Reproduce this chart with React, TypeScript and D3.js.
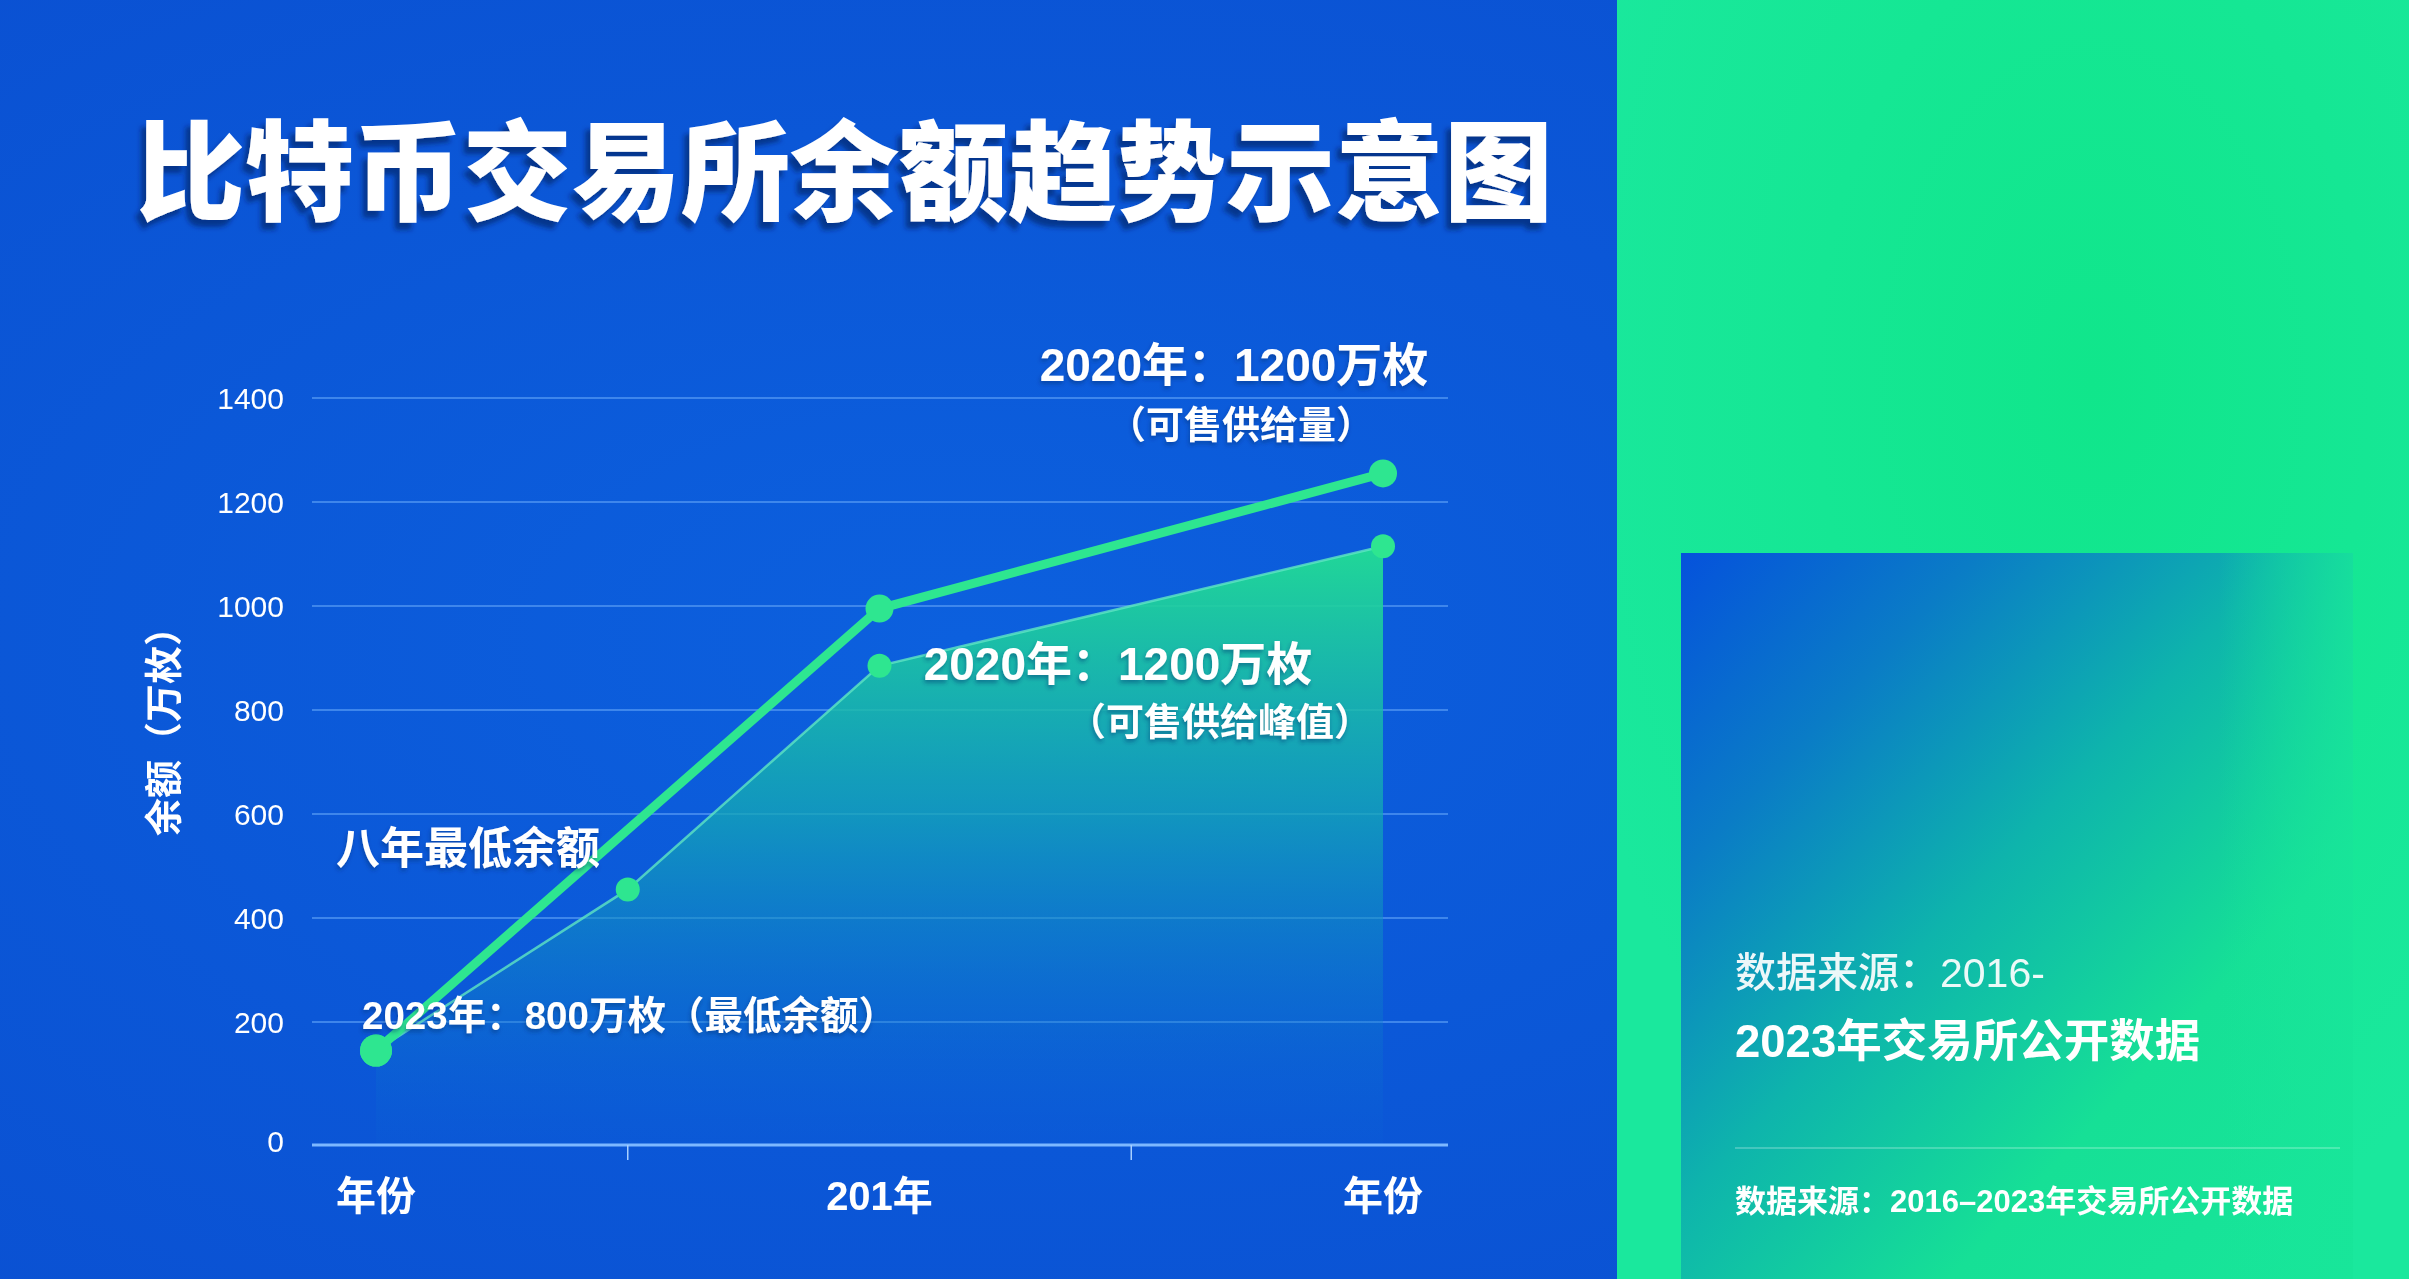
import React, { useEffect, useRef } from 'react';
import * as d3 from 'd3';

// axis values
const yTicks = [0, 200, 400, 600, 800, 1000, 1200, 1400];
const xTickSlots = [1, 3];
const xLabelSlots = [0, 2, 4];
const xLabels = ['年份', '201年', '年份'];

// series (万枚)
const supplySlots = [0, 2, 4];
const supplyValues = [145, 995, 1255];
const balanceSlots = [0, 1, 2, 4];
const balanceValues = [145, 455, 885, 1115];

const W = 2409;
const H = 1279;
const LATIN = '"Liberation Sans", "Noto Sans CJK SC", sans-serif';
const CJK = '"Noto Sans CJK SC", sans-serif';
const GREEN = '#2ee690';

const App: React.FC = () => {
  const svgRef = useRef<SVGSVGElement>(null);

  useEffect(() => {
    if (!svgRef.current) return;
    const svg = d3.select(svgRef.current);
    svg.selectAll('*').remove();

    const defs = svg.append('defs');

    const bg = defs.append('radialGradient').attr('id', 'bgGrad')
      .attr('cx', 0.4).attr('cy', 0.5).attr('r', 0.75);
    bg.append('stop').attr('offset', 0).attr('stop-color', '#0c60de');
    bg.append('stop').attr('offset', 1).attr('stop-color', '#0a4fd1');

    const gp = defs.append('radialGradient').attr('id', 'greenGrad')
      .attr('cx', 0.6).attr('cy', 0.3).attr('r', 0.7);
    gp.append('stop').attr('offset', 0).attr('stop-color', '#10e68b');
    gp.append('stop').attr('offset', 1).attr('stop-color', '#1ae89d');

    const box = defs.append('linearGradient').attr('id', 'boxGrad')
      .attr('x1', 0).attr('y1', 0).attr('x2', 1).attr('y2', 1);
    box.append('stop').attr('offset', 0).attr('stop-color', '#0552dc');
    box.append('stop').attr('offset', 0.22).attr('stop-color', '#0a7cc6');
    box.append('stop').attr('offset', 0.45).attr('stop-color', '#0eb4ac');
    box.append('stop').attr('offset', 0.7).attr('stop-color', '#16e096');
    box.append('stop').attr('offset', 1).attr('stop-color', '#18e69a');

    const fade = defs.append('linearGradient').attr('id', 'boxFade')
      .attr('x1', 0).attr('y1', 0).attr('x2', 1).attr('y2', 0);
    fade.append('stop').attr('offset', 0.8).attr('stop-color', '#18e69a').attr('stop-opacity', 0);
    fade.append('stop').attr('offset', 1).attr('stop-color', '#18e69a').attr('stop-opacity', 0.8);

    const shadow = defs.append('filter').attr('id', 'titleShadow')
      .attr('x', -0.1).attr('y', -0.2).attr('width', 1.2).attr('height', 1.5);
    shadow.append('feDropShadow').attr('dx', -5).attr('dy', 7).attr('stdDeviation', 2.5)
      .attr('flood-color', '#06215c').attr('flood-opacity', 0.6);

    const soft = defs.append('filter').attr('id', 'softShadow')
      .attr('x', -0.1).attr('y', -0.3).attr('width', 1.2).attr('height', 1.6);
    soft.append('feDropShadow').attr('dx', -1).attr('dy', 3).attr('stdDeviation', 2)
      .attr('flood-color', '#062a70').attr('flood-opacity', 0.45);

    // backgrounds
    svg.append('rect').attr('width', W).attr('height', H).attr('fill', 'url(#bgGrad)');
    svg.append('rect').attr('x', 1617).attr('y', 0).attr('width', W - 1617).attr('height', H)
      .attr('fill', 'url(#greenGrad)');
    svg.append('rect').attr('x', 1681).attr('y', 553).attr('width', 672).attr('height', H - 553)
      .attr('fill', 'url(#boxGrad)');
    svg.append('rect').attr('x', 1681).attr('y', 553).attr('width', 672).attr('height', H - 553)
      .attr('fill', 'url(#boxFade)');

    // title
    svg.append('text')
      .attr('x', 136).attr('y', 212)
      .attr('font-family', CJK).attr('font-weight', 900).attr('font-size', 109)
      .attr('fill', '#ffffff').attr('filter', 'url(#titleShadow)')
      .text('比特币交易所余额趋势示意图');

    // chart scales
    const x = d3.scaleLinear().domain([0, 4]).range([376, 1383]);
    const y = d3.scaleLinear().domain([0, 1400]).range([1126, 398]);
    const baseY = 1145;
    const gridX0 = 312;
    const gridX1 = 1448;

    const chart = svg.append('g');

    // gridlines
    chart.selectAll('.grid')
      .data(yTicks.filter(t => t > 0))
      .enter()
      .append('line')
      .attr('x1', gridX0).attr('x2', gridX1)
      .attr('y1', d => y(d)).attr('y2', d => y(d))
      .attr('stroke', '#4f95f2').attr('stroke-width', 2).attr('opacity', 0.75);

    // y tick labels
    chart.selectAll('.ylab')
      .data(yTicks)
      .enter()
      .append('text')
      .attr('x', 284)
      .attr('y', d => (d === 0 ? baseY - 4 : y(d)) + 11)
      .attr('text-anchor', 'end')
      .attr('font-family', LATIN).attr('font-size', 30)
      .attr('fill', '#ffffff')
      .text(d => d);

    // y axis title
    chart.append('text')
      .attr('transform', 'translate(177, 722) rotate(-90)')
      .attr('text-anchor', 'middle')
      .attr('font-family', CJK).attr('font-weight', 700).attr('font-size', 38)
      .attr('fill', '#ffffff')
      .text('余额（万枚）');

    // area under balance series
    const areaGrad = defs.append('linearGradient').attr('id', 'areaGrad')
      .attr('gradientUnits', 'userSpaceOnUse')
      .attr('x1', 0).attr('x2', 0)
      .attr('y1', y(d3.max(balanceValues) as number)).attr('y2', baseY);
    areaGrad.append('stop').attr('offset', 0).attr('stop-color', '#22de94').attr('stop-opacity', 0.95);
    areaGrad.append('stop').attr('offset', 0.45).attr('stop-color', '#13a8b6').attr('stop-opacity', 0.75);
    areaGrad.append('stop').attr('offset', 1).attr('stop-color', '#0a62d6').attr('stop-opacity', 0.15);

    const balance = balanceSlots.map((s, i) => ({ s, v: balanceValues[i] }));
    const supply = supplySlots.map((s, i) => ({ s, v: supplyValues[i] }));

    const area = d3.area<{ s: number; v: number }>()
      .x(d => x(d.s))
      .y0(baseY)
      .y1(d => y(d.v));

    chart.append('path')
      .attr('d', area(balance) as string)
      .attr('fill', 'url(#areaGrad)');

    const line = d3.line<{ s: number; v: number }>()
      .x(d => x(d.s))
      .y(d => y(d.v));

    chart.append('path')
      .attr('d', line(balance) as string)
      .attr('fill', 'none')
      .attr('stroke', '#5fe6c2').attr('stroke-width', 2.5).attr('opacity', 0.8);

    // x axis
    chart.append('line')
      .attr('x1', gridX0).attr('x2', gridX1)
      .attr('y1', baseY).attr('y2', baseY)
      .attr('stroke', '#7db8ff').attr('stroke-width', 3);

    chart.selectAll('.xtick')
      .data(xTickSlots)
      .enter()
      .append('line')
      .attr('x1', d => x(d)).attr('x2', d => x(d))
      .attr('y1', baseY).attr('y2', baseY + 15)
      .attr('stroke', '#a8d0ff').attr('stroke-width', 1.5);

    chart.selectAll('.xlab')
      .data(xLabelSlots)
      .enter()
      .append('text')
      .attr('x', d => x(d))
      .attr('y', 1210)
      .attr('text-anchor', 'middle')
      .attr('font-family', LATIN).attr('font-weight', 600).attr('font-size', 40)
      .attr('fill', '#ffffff')
      .text((d, i) => xLabels[i]);

    // supply line
    chart.append('path')
      .attr('d', line(supply) as string)
      .attr('fill', 'none')
      .attr('stroke', GREEN).attr('stroke-width', 9)
      .attr('stroke-linejoin', 'round').attr('stroke-linecap', 'round');

    chart.selectAll('.bdot')
      .data(balance)
      .enter()
      .append('circle')
      .attr('cx', d => x(d.s)).attr('cy', d => y(d.v))
      .attr('r', (d, i) => (i === 0 ? 16 : 12))
      .attr('fill', GREEN);

    chart.selectAll('.sdot')
      .data(supply)
      .enter()
      .append('circle')
      .attr('cx', d => x(d.s)).attr('cy', d => y(d.v))
      .attr('r', (d, i) => (i === 0 ? 16 : 14))
      .attr('fill', GREEN);

    // annotations
    const notes = [
      { text: '2020年：1200万枚', x: 1234, y: 381, size: 46, anchor: 'middle' },
      { text: '（可售供给量）', x: 1241, y: 438, size: 38, anchor: 'middle' },
      { text: '2020年：1200万枚', x: 1118, y: 680, size: 46, anchor: 'middle' },
      { text: '（可售供给峰值）', x: 1220, y: 735, size: 38, anchor: 'middle' },
      { text: '八年最低余额', x: 336, y: 864, size: 44, anchor: 'start' },
      { text: '2023年：800万枚（最低余额）', x: 362, y: 1029, size: 38.5, anchor: 'start' },
    ];

    chart.selectAll('.note')
      .data(notes)
      .enter()
      .append('text')
      .attr('x', d => d.x).attr('y', d => d.y)
      .attr('text-anchor', d => d.anchor)
      .attr('font-family', LATIN).attr('font-weight', 700)
      .attr('font-size', d => d.size)
      .attr('fill', '#ffffff')
      .attr('filter', 'url(#softShadow)')
      .text(d => d.text);

    // source panel
    svg.append('text')
      .attr('x', 1735).attr('y', 987)
      .attr('font-family', LATIN).attr('font-weight', 500).attr('font-size', 41)
      .attr('fill', '#ffffff').attr('opacity', 0.92)
      .text('数据来源：2016-');

    svg.append('text')
      .attr('x', 1735).attr('y', 1057)
      .attr('font-family', LATIN).attr('font-weight', 700).attr('font-size', 45.5)
      .attr('fill', '#ffffff')
      .text('2023年交易所公开数据');

    svg.append('line')
      .attr('x1', 1735).attr('x2', 2340)
      .attr('y1', 1148).attr('y2', 1148)
      .attr('stroke', '#ffffff').attr('stroke-width', 1.5).attr('opacity', 0.3);

    svg.append('text')
      .attr('x', 1735).attr('y', 1212)
      .attr('font-family', LATIN).attr('font-weight', 700).attr('font-size', 31)
      .attr('fill', '#ffffff')
      .text('数据来源：2016–2023年交易所公开数据');
  }, []);

  return (
    <div style={{ position: 'fixed', left: 0, top: 0, width: W, height: H, overflow: 'hidden' }}>
      <svg ref={svgRef} width={W} height={H} style={{ display: 'block' }} />
    </div>
  );
};

export default App;
